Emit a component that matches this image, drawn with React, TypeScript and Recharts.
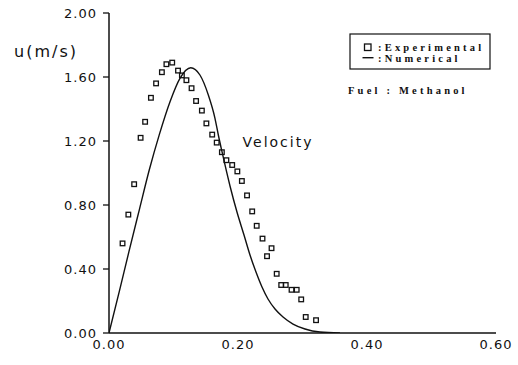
import React from "react";
import { ComposedChart, XAxis, YAxis, Line, Scatter } from "recharts";

// Experimental data (x in m, u in m/s)
const expX = [0.021, 0.030, 0.039, 0.049, 0.056, 0.065, 0.073, 0.082, 0.089, 0.098, 0.107, 0.113, 0.120, 0.128, 0.135, 0.144, 0.151, 0.160, 0.167, 0.175, 0.182, 0.191, 0.199, 0.206, 0.214, 0.222, 0.229, 0.238, 0.252, 0.245, 0.260, 0.267, 0.274, 0.283, 0.291, 0.298, 0.305, 0.321];
const expU = [0.56, 0.74, 0.93, 1.22, 1.32, 1.47, 1.56, 1.63, 1.68, 1.69, 1.64, 1.61, 1.58, 1.53, 1.45, 1.39, 1.31, 1.24, 1.19, 1.13, 1.08, 1.05, 1.01, 0.95, 0.86, 0.76, 0.67, 0.59, 0.53, 0.48, 0.37, 0.30, 0.30, 0.27, 0.27, 0.21, 0.10, 0.08];

// Numerical curve
const numX = [0, 0.016, 0.031, 0.047, 0.0625, 0.078, 0.0946, 0.110, 0.1267, 0.141, 0.154, 0.1643, 0.1695, 0.1752, 0.1876, 0.1984, 0.2093, 0.2186, 0.2279, 0.2372, 0.2465, 0.2574, 0.2698, 0.2853, 0.3039, 0.3271, 0.3581];
const numU = [0, 0.26, 0.51, 0.77, 1.02, 1.24, 1.446, 1.592, 1.658, 1.6125, 1.4875, 1.342, 1.2375, 1.133, 0.919, 0.756, 0.6125, 0.4875, 0.381, 0.2875, 0.2125, 0.15, 0.10, 0.056, 0.025, 0.006, 0];

const xTicks = [0, 0.2, 0.4, 0.6];
const yTicks = [0, 0.4, 0.8, 1.2, 1.6, 2.0];

const expData = expX.map((x, i) => ({ x, y: expU[i] }));
const numData = numX.map((x, i) => ({ x, y: numU[i] }));

const tickFont = { fontFamily: "DejaVu Sans", fontSize: 13, fill: "#111", letterSpacing: 1 };

const Square = (props: any) => {
  const { cx, cy } = props;
  if (cx == null || cy == null) return null;
  return <rect x={cx - 2.3} y={cy - 2.3} width={4.6} height={4.6} fill="none" stroke="#111" strokeWidth={1.3} />;
};

const serifBold = { fontFamily: "Liberation Serif", fontWeight: 700, fontSize: 10.5, fill: "#111", letterSpacing: 3.2 };

export default function App() {
  return (
    <div style={{ position: "fixed", left: 0, top: 0, width: 518, height: 365, background: "#fff" }}>
      <ComposedChart width={518} height={365} margin={{ top: 13, right: 22, bottom: 2, left: 49 }}>
        <XAxis
          type="number"
          dataKey="x"
          domain={[0, 0.6]}
          ticks={xTicks}
          tickFormatter={(v: number) => v.toFixed(2)}
          tickLine={false}
          tickSize={0}
          tickMargin={7}
          height={30}
          axisLine={{ stroke: "#111", strokeWidth: 1.5 }}
          tick={tickFont}
          allowDataOverflow
        />
        <YAxis
          type="number"
          dataKey="y"
          domain={[0, 2]}
          ticks={yTicks}
          tickFormatter={(v: number) => v.toFixed(2)}
          width={60}
          tickSize={6}
          tickMargin={6}
          tickLine={{ stroke: "#111", strokeWidth: 1.3 }}
          axisLine={{ stroke: "#111", strokeWidth: 1.5 }}
          tick={tickFont}
          allowDataOverflow
        />
        <Line
          data={numData}
          dataKey="y"
          type="monotone"
          dot={false}
          stroke="#111"
          strokeWidth={1.4}
          isAnimationActive={false}
        />
        <Scatter data={expData} dataKey="y" shape={<Square />} isAnimationActive={false} />
      </ComposedChart>
      <svg width={518} height={365} style={{ position: "absolute", left: 0, top: 0, pointerEvents: "none" }}>
        <text x={46} y={57} textAnchor="middle" style={{ fontFamily: "DejaVu Sans", fontSize: 16, fill: "#111", letterSpacing: 2 }}>u(m/s)</text>
        <text x={278} y={147} textAnchor="middle" style={{ fontFamily: "DejaVu Sans", fontSize: 14, fill: "#111", letterSpacing: 2 }}>Velocity</text>
        <rect x={350} y={34} width={140} height={35} fill="none" stroke="#111" strokeWidth={1.2} />
        <rect x={364.5} y={44} width={6.5} height={6.5} fill="none" stroke="#111" strokeWidth={1.3} />
        <text x={378} y={50.5} style={serifBold}>:Experimental</text>
        <line x1={362.5} x2={373.5} y1={57.7} y2={57.7} stroke="#111" strokeWidth={1.4} />
        <text x={378} y={62.3} style={serifBold}>:Numerical</text>
        <text x={348} y={94} style={serifBold}>Fuel : Methanol</text>
      </svg>
    </div>
  );
}
